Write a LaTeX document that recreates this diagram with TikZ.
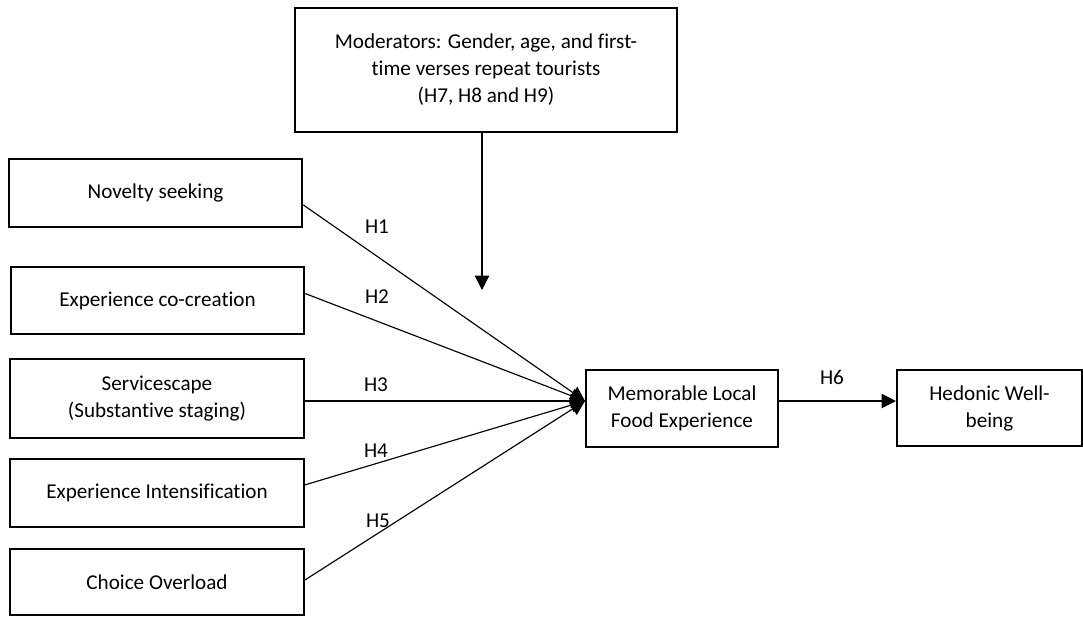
\documentclass[tikz,border=0pt]{standalone}
\usepackage{fontspec}
\setmainfont{Carlito}[Ligatures=NoCommon]
\usetikzlibrary{arrows.meta}

\begin{document}
\begin{tikzpicture}[x=0.52pt, y=-0.52pt,
    every node/.style = {font=\fontsize{11}{14}\selectfont},
    box/.style = {draw, line width=1.1pt, align=center, inner sep=0pt},
    leftbox/.style = {box, minimum width=152.6pt},
    link/.style = {line width=0.6pt, -{Triangle[length=7.5pt,width=7.5pt]}},
    hyp/.style = {inner sep=1pt}]
  \useasboundingbox (0,0) rectangle (1083,616);
  % moderators on top
  \node [box, minimum width=198.6pt, minimum height=64.5pt] (mod) at (486,70)
    {Moderators: Gender, age, and first-\\time verses repeat tourists\\(H7, H8 and H9)};
  % antecedents, left column
  \node [leftbox, minimum height=35.4pt] (nov) at (155.5,193) {Novelty seeking};
  \node [leftbox, minimum height=34.8pt] (cocr) at (157.5,300.5) {Experience co-creation};
  \node [leftbox, minimum height=41.1pt] (serv) at (157,398.5) {Servicescape\\(Substantive staging)};
  \node [leftbox, minimum height=35.4pt] (intens) at (157,493) {Experience Intensification};
  \node [leftbox, minimum height=34.3pt] (choice) at (157,582) {Choice Overload};
  % outcomes
  \node [box, minimum width=99.8pt, minimum height=40pt] (mem) at (682,408.5)
    {Memorable Local\\Food Experience};
  \node [box, minimum width=96.2pt, minimum height=39.5pt] (hed) at (989.5,408)
    {Hedonic Well-\\being};
  \coordinate (tip) at ([yshift=3.9pt]mem.west);
  \coordinate (modend) at (482,290);
  \draw [link] ([yshift=-6.2pt]nov.east) -- (tip);
  \draw [link] ([yshift=3.6pt]cocr.east) -- (tip);
  \draw [link] (serv.east |- tip) -- (tip);
  \draw [link] ([yshift=4.2pt]intens.east) -- (tip);
  \draw [link] ([yshift=1pt]choice.east) -- (tip);
  \draw [link] (mem.east |- tip) -- (hed.west |- tip);
  \draw [link] (mod.south -| modend) -- (modend);
  % hypothesis labels
  \node [hyp] (h1) at (377,227) {H1};
  \node [hyp] (h2) at (377,297) {H2};
  \node [hyp] (h3) at (376,385) {H3};
  \node [hyp] (h4) at (376,451) {H4};
  \node [hyp] (h5) at (378,521) {H5};
  \node [hyp] (h6) at (832,377) {H6};
\end{tikzpicture}
\end{document}
